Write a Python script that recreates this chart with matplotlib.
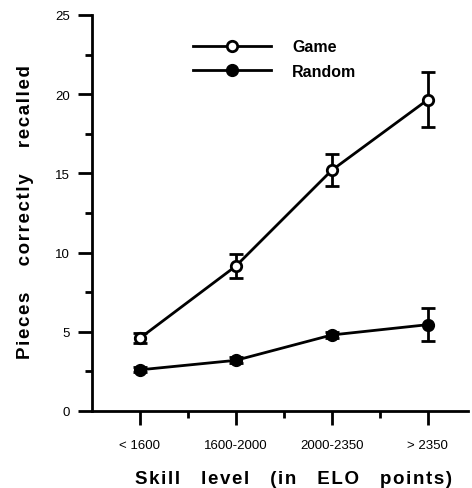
import matplotlib
matplotlib.use("Agg")
import matplotlib.pyplot as plt
from matplotlib.ticker import FixedLocator
from matplotlib.lines import Line2D

categories = ["< 1600", "1600-2000", "2000-2350", "> 2350"]
game_mean = [4.6, 9.15, 15.2, 19.65]
game_err = [0.3, 0.75, 1.0, 1.75]
random_mean = [2.6, 3.2, 4.8, 5.45]
random_err = [0.15, 0.2, 0.2, 1.05]

plt.rcParams["font.family"] = ["Liberation Sans", "DejaVu Sans"]


def spaced(text, gap=5):
    # slight letter tracking, wide gaps between words
    return (" " * gap).join("\u200a".join(w) for w in text.split())


fig = plt.figure(figsize=(4.72, 4.89), dpi=100)
ax = fig.add_axes([92 / 472, 77 / 489, 376 / 472, 396 / 489])

x = [1, 2, 3, 4]

ax.errorbar(x, game_mean, yerr=game_err, color="black", lw=2.0, elinewidth=2.0,
            capsize=5, capthick=2.0, marker="o", ms=7.5, mfc="white",
            mec="black", mew=2.0, zorder=3)
ax.errorbar(x, random_mean, yerr=random_err, color="black", lw=2.0, elinewidth=2.0,
            capsize=5, capthick=2.0, marker="o", ms=8.5, mfc="black",
            mec="black", zorder=3)

ax.set_xlim(0.5, 4.42)
ax.set_ylim(0, 25)

for s in ["top", "right"]:
    ax.spines[s].set_visible(False)
for s in ["left", "bottom"]:
    ax.spines[s].set_linewidth(2.0)

ax.set_xticks(x)
ax.set_xticklabels(categories)
ax.xaxis.set_minor_locator(FixedLocator([1.5, 2.5, 3.5]))
ax.set_yticks([0, 5, 10, 15, 20, 25])
ax.yaxis.set_minor_locator(FixedLocator([2.5, 7.5, 12.5, 17.5, 22.5]))

ax.tick_params(axis="both", which="major", direction="out", length=10, width=2.0,
               labelsize=9.5, pad=6)
ax.tick_params(axis="both", which="minor", direction="out", length=5, width=2.0)
ax.tick_params(axis="x", which="major", pad=10)

ax.set_ylabel(spaced("Pieces correctly recalled", 5), fontsize=13.5,
              fontweight="bold")
ax.set_xlabel(spaced("Skill level (in ELO points)", 4), fontsize=13.5,
              fontweight="bold")
ax.yaxis.set_label_coords(-0.155, 0.505)
ax.xaxis.set_label_coords(0.535, -0.148)

handles = [
    Line2D([], [], color="black", lw=2.0, marker="o", ms=7.5, mfc="white",
           mec="black", mew=2.0),
    Line2D([], [], color="black", lw=2.0, marker="o", ms=8.5, mfc="black",
           mec="black"),
]
ax.legend(handles, ["Game", "Random"], loc="upper left",
          bbox_to_anchor=(0.23, 0.975), frameon=False,
          handlelength=4.9, handletextpad=1.3, labelspacing=0.6,
          prop={"weight": "bold", "size": 11.5})

fig.savefig("out.png", dpi=100)
